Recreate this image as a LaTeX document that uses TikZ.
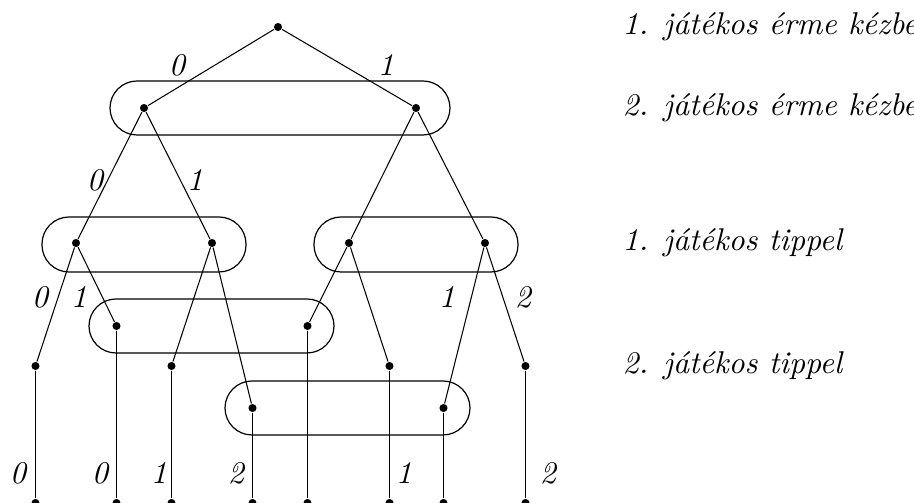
\documentclass[tikz,border=0pt]{standalone}
\usepackage{fontspec}
\begin{document}
\begin{tikzpicture}[x=0.3333pt,y=-0.3333pt,
  dot/.style={circle,fill=black,inner sep=0pt,minimum size=2.7pt},
  edge/.style={line width=0.35pt},
  infoset/.style={line width=0.4pt,rounded corners=9pt},
  lab/.style={inner sep=0pt,font=\fontsize{10.5}{12.6}\selectfont\itshape},
  txt/.style={inner sep=0pt,anchor=west,font=\fontsize{10.5}{12.6}\selectfont\itshape}]
\useasboundingbox (0,0) rectangle (914,503);
% information sets
\draw[infoset] (110,81) rectangle (450,135);
\draw[infoset] (42,217) rectangle (246,272);
\draw[infoset] (314,217) rectangle (518,272);
\draw[infoset] (89,299) rectangle (334,353);
\draw[infoset] (225,381) rectangle (470,435);
% nodes
\node[dot] (r) at (278,27) {};
\node[dot] (a) at (144,108) {};
\node[dot] (b) at (416,108) {};
\node[dot] (c1) at (76,243) {};
\node[dot] (c2) at (212,243) {};
\node[dot] (c3) at (349,243) {};
\node[dot] (c4) at (485,243) {};
\node[dot] (d1) at (35.5,366) {};
\node[dot] (d2) at (116.5,326) {};
\node[dot] (d3) at (171.5,366) {};
\node[dot] (d4) at (252.5,408) {};
\node[dot] (d5) at (307.5,326) {};
\node[dot] (d6) at (389.5,366) {};
\node[dot] (d7) at (443.5,408) {};
\node[dot] (d8) at (525.5,366) {};
\foreach \i/\x in {1/35.5,2/116.5,3/171.5,4/252.5,5/307.5,6/389.5,7/443.5,8/525.5}
  \node[dot] (e\i) at (\x,503) {};
% edges
\draw[edge] (r) -- (a);
\draw[edge] (r) -- (b);
\draw[edge] (a) -- (c1);
\draw[edge] (a) -- (c2);
\draw[edge] (b) -- (c3);
\draw[edge] (b) -- (c4);
\draw[edge] (c1) -- (d1);
\draw[edge] (c1) -- (d2);
\draw[edge] (c2) -- (d3);
\draw[edge] (c2) -- (d4);
\draw[edge] (c3) -- (d5);
\draw[edge] (c3) -- (d6);
\draw[edge] (c4) -- (d7);
\draw[edge] (c4) -- (d8);
\foreach \i in {1,...,8}
  \draw[edge] (d\i) -- (e\i);
% edge labels
\node[lab] (l1) at (177,65) {0};
\node[lab] (l2) at (386,65) {1};
\node[lab] (l3) at (95,180) {0};
\node[lab] (l4) at (195,180) {1};
\node[lab] (l5) at (40,297) {0};
\node[lab] (l6) at (79,297) {1};
\node[lab] (l7) at (447,297) {1};
\node[lab] (l8) at (523,297) {2};
\node[lab] (m1) at (18,473) {0};
\node[lab] (m2) at (100,473) {0};
\node[lab] (m3) at (159,473) {1};
\node[lab] (m4) at (236,473) {2};
\node[lab] (m5) at (404,473) {1};
\node[lab] (m6) at (548,473) {2};
% legend texts
\node[txt] (t1) at (622,27) {1. játékos érme kézbe};
\node[txt] (t2) at (622,108) {2. játékos érme kézbe};
\node[txt] (t3) at (622,243) {1. játékos tippel};
\node[txt] (t4) at (622,366) {2. játékos tippel};
\end{tikzpicture}
\end{document}
